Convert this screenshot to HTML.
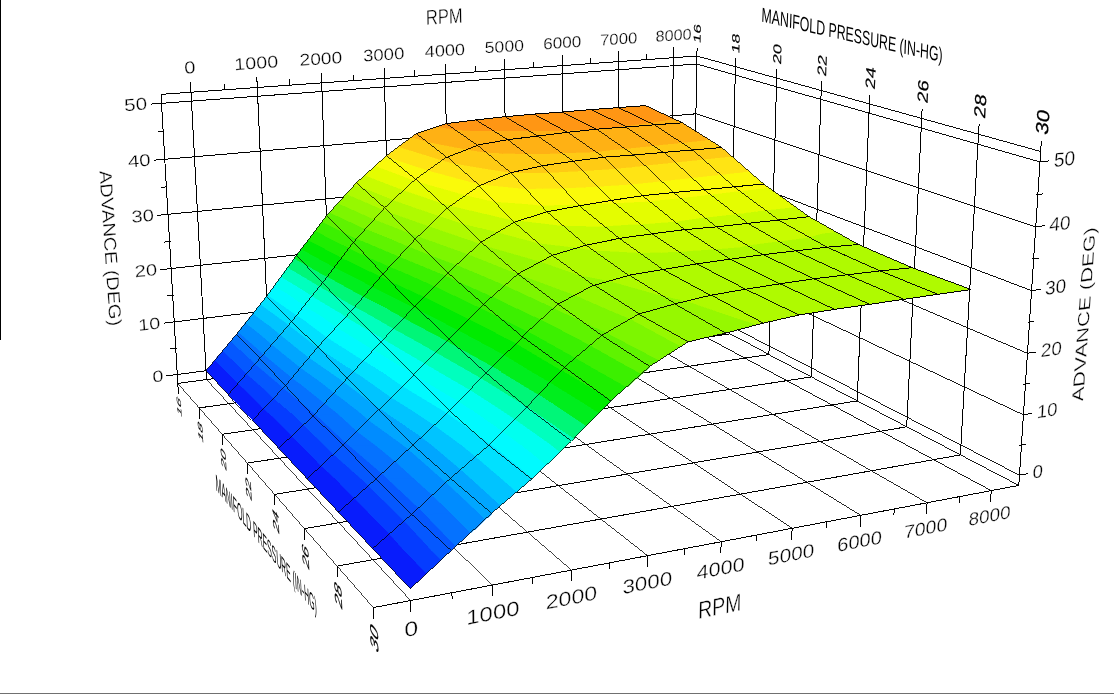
<!DOCTYPE html>
<html><head><meta charset="utf-8"><title>ADVANCE (DEG) vs RPM and MANIFOLD PRESSURE (IN-HG)</title>
<style>html,body{margin:0;padding:0;background:#fff}svg{display:block}text{stroke:#fff;stroke-width:1.6px;paint-order:fill stroke}text.b{stroke:#000;stroke-width:1.2px}text.n{stroke:none}</style></head>
<body>
<svg width="1114" height="694" viewBox="0 0 1114 694">
<rect width="1114" height="694" fill="#fff"/>
<rect x="0" y="0" width="1" height="340" fill="#000"/>
<rect x="0" y="693" width="1114" height="1" fill="#707070"/>
<g fill="none" stroke="#000" shape-rendering="crispEdges"><path stroke-width="0.7" d="M269.9,371.1L492.5,585"/><path stroke-width="0.75" d="M177.8,383.4L373.3,607.6M206.5,379.6L410.6,600.5M331.6,362.9L571.5,570.1"/><path stroke-width="0.8" d="M391.7,354.8L647.6,555.7M450.2,347L721.1,541.7"/><path stroke-width="0.85" d="M507.2,339.4L792.1,528.3M562.8,332L860.7,515.3M616.9,324.8L927.1,502.8"/><path stroke-width="0.9" d="M692.5,314.7L1018.8,485.4M692.7,306.6L1019.4,475.2M693.5,259.4L1023.4,414.8M694.3,211.6L1027.4,353.3M669.8,317.7L991.2,490.6"/><path stroke-width="0.95" d="M696.9,56L1040.7,151.5M695.1,163L1031.5,290.6M695.9,113.8L1035.7,226.8M696.8,64L1040,161.9"/><path stroke-width="1" d="M177.8,383.4L161,94.4M692.5,314.7L696.9,56M206.5,379.6L191,92.2M269.9,371.1L257.3,87.5M331.6,362.9L321.7,82.9M391.7,354.8L384.4,78.4M450.2,347L445.3,74M507.2,339.4L504.6,69.8M562.8,332L562.3,65.6M616.9,324.8L618.5,61.6M669.8,317.7L673.3,57.7M177.8,383.4L692.5,314.7M161,94.4L696.9,56M177.3,374.5L692.7,306.6M174.2,321.9L693.5,259.4M171.1,268.5L694.3,211.6M168,214.3L695.1,163M164.8,159.3L695.9,113.8M161.6,103.3L696.8,64M729.4,334L735.4,66.7M768.9,354.6L776.7,78.1M811.4,376.9L821.2,90.5M857.2,400.9L869.4,103.9M906.7,426.8L921.7,118.4M960.4,454.9L978.5,134.2M1018.8,485.4L1040.7,151.5M199.1,407.9L729.4,334M222.2,434.3L768.9,354.6M247.3,463.1L811.4,376.9M274.5,494.4L857.2,400.9M304.4,528.6L906.7,426.8M337.1,566.1L960.4,454.9M373.3,607.6L1018.8,485.4M191,92.2L190.5,81.9M410.6,600.5L410.9,611.8M224.4,89.8L224.1,84M451.9,592.7L452.1,599M257.3,87.5L256.8,77.2M492.5,585L492.7,596.3M289.7,85.1L289.5,79.4M532.4,577.5L532.4,583.8M321.7,82.9L321.4,72.6M571.5,570.1L571.5,581.4M353.3,80.6L353.1,74.8M609.9,562.8L609.9,569.1M384.4,78.4L384.1,68.1M647.6,555.7L647.5,567M415,76.2L414.9,70.4M684.7,548.6L684.6,554.9M445.3,74L445.1,63.7M721.1,541.7L720.9,553M475.1,71.9L475.1,66.1M756.9,535L756.8,541.3M504.6,69.8L504.5,59.5M792.1,528.3L791.8,539.6M533.6,67.7L533.6,61.9M826.7,521.8L826.5,528.1M562.3,65.6L562.3,55.3M860.7,515.3L860.2,526.6M590.6,63.6L590.6,57.8M894.2,509L893.9,515.3M618.5,61.6L618.6,51.3M927.1,502.8L926.5,514.1M646.1,59.6L646.2,53.8M959.4,496.7L959,503M673.3,57.7L673.5,47.4M991.2,490.6L990.5,501.9M177.3,374.5L166.5,375.9M1019.4,475.2L1028.3,473.5M176.7,348.2L170.3,349M1019.4,445.5L1026.3,444.2M174.2,321.9L163.5,323.2M1023.4,414.8L1032.3,413.3M173.7,295.2L167.2,295.9M1023.4,384.5L1030.3,383.3M171.1,268.5L160.4,269.7M1027.4,353.3L1036.3,351.9M170.6,241.4L164.1,242.1M1027.5,322.4L1034.4,321.3M168,214.3L157.2,215.4M1031.5,290.6L1040.5,289.4M167.4,186.8L160.9,187.4M1031.6,259.1L1038.6,258.2M164.8,159.3L154,160.2M1035.7,226.8L1044.7,225.7M164.2,131.3L157.7,131.8M1035.9,194.7L1042.8,193.9M161.6,103.3L150.8,104.1M1040,161.9L1048.9,160.9M696.9,56L697.1,47.7M177.8,383.4L178.4,394M735.4,66.7L735.6,58.1M199.1,407.9L199.7,418.6M776.7,78.1L776.9,69.3M222.2,434.3L222.8,445.2M821.2,90.5L821.6,81.4M247.3,463.1L247.8,474M869.4,103.9L869.8,94.6M274.5,494.4L275,505.4M921.7,118.4L922.1,108.8M304.4,528.6L304.8,539.7M978.5,134.2L979.1,124.4M337.1,566.1L337.5,577.4M1040.7,151.5L1041.3,141.4M373.3,607.6L373.6,619"/></g>
<g shape-rendering="crispEdges"><path fill="#081cfc" stroke="#081cfc" stroke-width="0.6" d="M206,370.7L236.4,334.4L259.9,358.4ZM206,370.7L259.9,358.4L228.3,394.5ZM228.3,394.5L259.9,358.4L285.4,385.7ZM228.3,394.5L285.4,385.7L252.5,420.3ZM252.5,420.3L285.4,385.7L313.1,415.9ZM252.5,420.3L313.1,415.9L278.7,448.3ZM278.7,448.3L313.1,415.9L343.1,445.1ZM278.7,448.3L343.1,445.1L307.2,478.8ZM307.2,478.8L343.1,445.1L375.8,479.1ZM307.2,478.8L375.8,479.1L338.4,512.1ZM338.4,512.1L375.8,479.1L411.7,514.3ZM338.4,512.1L411.7,514.3L372.6,548.6ZM372.6,548.6L411.7,514.3L451.2,550.5ZM372.6,548.6L451.2,550.5L410.3,588.8Z"/><path fill="#053cff" stroke="#053cff" stroke-width="0.6" d="M214.8,360.1L236.4,334.4L259.9,358.4L222,367ZM222,367L259.9,358.4L238,383.5ZM238,383.5L259.9,358.4L285.4,385.7L247.1,391.6ZM247.1,391.6L285.4,385.7L263.6,408.7ZM263.6,408.7L285.4,385.7L313.1,415.9L275.2,418.7ZM275.2,418.7L313.1,415.9L291.9,435.9ZM291.9,435.9L313.1,415.9L343.1,445.1L303,447.1ZM303,447.1L343.1,445.1L321.1,465.7ZM321.1,465.7L343.1,445.1L375.8,479.1L335.5,478.9ZM335.5,478.9L375.8,479.1L354.3,498.1ZM354.3,498.1L375.8,479.1L411.7,514.3L369,513ZM369,513L411.7,514.3L389.4,533.8ZM389.4,533.8L411.7,514.3L451.2,550.5L403.2,549.3ZM403.2,549.3L451.2,550.5L426.7,573.5Z"/><path fill="#0558ff" stroke="#0558ff" stroke-width="0.6" d="M222.7,350.8L236.4,334.4L259.9,358.4L236.6,363.7ZM236.6,363.7L259.9,358.4L246.6,373.7ZM246.6,373.7L259.9,358.4L285.4,385.7L264.1,389ZM264.1,389L285.4,385.7L273.5,398.3ZM273.5,398.3L285.4,385.7L313.1,415.9L295.9,417.1ZM295.9,417.1L313.1,415.9L303.6,424.8ZM285.4,385.7L347.1,378.2L313.1,415.9ZM303.6,424.8L313.1,415.9L343.1,445.1L325.2,446ZM325.2,446L343.1,445.1L333.4,454.1ZM313.1,415.9L347.1,378.2L378.5,409.6ZM313.1,415.9L378.5,409.6L343.1,445.1ZM333.4,454.1L343.1,445.1L375.8,479.1L361.5,479ZM361.5,479L375.8,479.1L368.3,485.7ZM343.1,445.1L378.5,409.6L412.9,445.1ZM343.1,445.1L412.9,445.1L375.8,479.1ZM368.3,485.7L375.8,479.1L411.7,514.3L397.2,513.8ZM397.2,513.8L411.7,514.3L404.3,520.8ZM375.8,479.1L412.9,445.1L450.4,478.3ZM375.8,479.1L450.4,478.3L411.7,514.3ZM404.3,520.8L411.7,514.3L451.2,550.5L431.3,550ZM431.3,550L451.2,550.5L441.2,559.9ZM411.7,514.3L450.4,478.3L491.6,513.3ZM411.7,514.3L491.6,513.3L451.2,550.5Z"/><path fill="#0572ff" stroke="#0572ff" stroke-width="0.6" d="M230.5,341.4L236.4,334.4L259.9,358.4L251.5,360.3ZM251.5,360.3L259.9,358.4L255.1,363.9ZM236.4,334.4L266.6,296.4L291.4,321.8ZM236.4,334.4L291.4,321.8L259.9,358.4ZM255.1,363.9L259.9,358.4L285.4,385.7L281.6,386.3ZM281.6,386.3L285.4,385.7L283.3,387.9ZM259.9,358.4L291.4,321.8L318,346.8ZM259.9,358.4L318,346.8L285.4,385.7ZM283.3,387.9L285.4,385.7L300.1,401.6ZM285.4,385.7L318,346.8L347.1,378.2ZM285.4,385.7L347.1,378.2L314.9,413.9L300.1,401.6ZM314.9,413.9L347.1,378.2L378.5,409.6L316.9,415.5ZM316.9,415.5L378.5,409.6L345.6,442.6ZM345.6,442.6L378.5,409.6L412.9,445.1L348.8,445.1ZM348.8,445.1L412.9,445.1L382,473.5ZM382,473.5L412.9,445.1L450.4,478.3L387.8,479ZM387.8,479L450.4,478.3L418.6,507.9ZM418.6,507.9L450.4,478.3L491.6,513.3L424.8,514.1ZM424.8,514.1L491.6,513.3L455.8,546.3Z"/><path fill="#008cff" stroke="#008cff" stroke-width="0.6" d="M238.2,332L266.6,296.4L291.4,321.8L240.1,333.5ZM240.1,333.5L291.4,321.8L263.6,354.1ZM263.6,354.1L291.4,321.8L318,346.8L267,357ZM267,357L318,346.8L292.1,377.8ZM292.1,377.8L318,346.8L347.1,378.2L300.4,383.9ZM300.4,383.9L347.1,378.2L324.6,403.2ZM324.6,403.2L347.1,378.2L378.5,409.6L337.7,413.5ZM337.7,413.5L378.5,409.6L357,431.2ZM357,431.2L378.5,409.6L412.9,445.1L375.6,445.1ZM375.6,445.1L412.9,445.1L395.2,461.3ZM395.2,461.3L412.9,445.1L450.4,478.3L414.3,478.7ZM414.3,478.7L450.4,478.3L432.4,495.1ZM432.4,495.1L450.4,478.3L491.6,513.3L451.6,513.8ZM451.6,513.8L491.6,513.3L470.5,532.7Z"/><path fill="#00a6ff" stroke="#00a6ff" stroke-width="0.6" d="M245.6,322.8L266.6,296.4L291.4,321.8L255.2,330.1ZM255.2,330.1L291.4,321.8L272,344.3ZM272,344.3L291.4,321.8L318,346.8L283.3,353.7ZM283.3,353.7L318,346.8L300.6,367.6ZM300.6,367.6L318,346.8L347.1,378.2L320,381.5ZM320,381.5L347.1,378.2L334.2,392.5ZM334.2,392.5L347.1,378.2L378.5,409.6L358.9,411.5ZM358.9,411.5L378.5,409.6L368.3,419.8ZM347.1,378.2L413.8,374.6L378.5,409.6ZM368.3,419.8L378.5,409.6L412.9,445.1L403.3,445.1ZM403.3,445.1L412.9,445.1L408.4,449.2ZM378.5,409.6L413.8,374.6L449.6,410.9ZM378.5,409.6L449.6,410.9L412.9,445.1ZM408.4,449.2L412.9,445.1L450.4,478.3L441.6,478.4ZM441.6,478.4L450.4,478.3L446.1,482.3ZM412.9,445.1L449.6,410.9L488.7,445.3ZM412.9,445.1L488.7,445.3L450.4,478.3ZM446.1,482.3L450.4,478.3L491.6,513.3L479.3,513.4ZM479.3,513.4L491.6,513.3L485.2,519.2ZM450.4,478.3L488.7,445.3L531.7,479.1ZM450.4,478.3L531.7,479.1L491.6,513.3Z"/><path fill="#00c4ff" stroke="#00c4ff" stroke-width="0.6" d="M253,313.5L266.6,296.4L291.4,321.8L270.7,326.6ZM270.7,326.6L291.4,321.8L280.4,334.6ZM280.4,334.6L291.4,321.8L318,346.8L299.9,350.4ZM299.9,350.4L318,346.8L309,357.5ZM309,357.5L318,346.8L347.1,378.2L340.1,379ZM340.1,379L347.1,378.2L343.8,381.8ZM318,346.8L380.9,341.9L347.1,378.2ZM343.8,381.8L347.1,378.2L371.2,402.3ZM347.1,378.2L380.9,341.9L413.8,374.6ZM347.1,378.2L413.8,374.6L379.7,408.5L371.2,402.3ZM379.7,408.5L413.8,374.6L449.6,410.9L381.5,409.7ZM381.5,409.7L449.6,410.9L421.4,437.1ZM421.4,437.1L449.6,410.9L488.7,445.3L432.1,445.2ZM432.1,445.2L488.7,445.3L460.7,469.4ZM460.7,469.4L488.7,445.3L531.7,479.1L471,478.5ZM471,478.5L531.7,479.1L500.7,505.5Z"/><path fill="#00e1ff" stroke="#00e1ff" stroke-width="0.6" d="M260.4,304.2L266.6,296.4L291.4,321.8L286.4,323ZM286.4,323L291.4,321.8L288.8,324.9ZM266.6,296.4L296.5,255.4L322.5,282.8ZM266.6,296.4L322.5,282.8L291.4,321.8ZM288.8,324.9L291.4,321.8L318,346.8L317,347ZM317,347L318,346.8L317.5,347.4ZM291.4,321.8L322.5,282.8L350.6,311.7ZM291.4,321.8L350.6,311.7L318,346.8ZM317.5,347.4L318,346.8L320.5,349.4ZM318,346.8L350.6,311.7L380.9,341.9ZM318,346.8L380.9,341.9L353.6,371.2L320.5,349.4ZM353.6,371.2L380.9,341.9L413.8,374.6L363.1,377.3ZM363.1,377.3L413.8,374.6L391.1,397.2ZM391.1,397.2L413.8,374.6L449.6,410.9L412,410.2ZM412,410.2L449.6,410.9L434.3,425.1ZM434.3,425.1L449.6,410.9L488.7,445.3L461.8,445.2ZM461.8,445.2L488.7,445.3L475.7,456.5ZM449.6,410.9L526.7,407.1L488.7,445.3ZM475.7,456.5L488.7,445.3L531.7,479.1L501.8,478.8ZM501.8,478.8L531.7,479.1L516.7,491.9ZM488.7,445.3L526.7,407.1L571.4,441.2ZM488.7,445.3L571.4,441.2L531.7,479.1Z"/><path fill="#00faff" stroke="#00faff" stroke-width="0.6" d="M267.6,294.9L296.5,255.4L322.5,282.8L269,295.8ZM269,295.8L322.5,282.8L296.7,315.2ZM296.7,315.2L322.5,282.8L350.6,311.7L303.8,319.7ZM303.8,319.7L350.6,311.7L326.9,337.2ZM326.9,337.2L350.6,311.7L380.9,341.9L339.4,345.1ZM339.4,345.1L380.9,341.9L363.5,360.5ZM363.5,360.5L380.9,341.9L413.8,374.6L388.1,376ZM388.1,376L413.8,374.6L402.4,385.9ZM380.9,341.9L448.7,339.2L413.8,374.6ZM402.4,385.9L413.8,374.6L449.6,410.9L443.6,410.8ZM443.6,410.8L449.6,410.9L447.2,413.1ZM413.8,374.6L448.7,339.2L486,372.9ZM413.8,374.6L486,372.9L449.6,410.9ZM447.2,413.1L449.6,410.9L472.6,431.2ZM449.6,410.9L486,372.9L526.7,407.1ZM449.6,410.9L526.7,407.1L490.3,443.8L472.6,431.2ZM490.3,443.8L526.7,407.1L571.4,441.2L492.1,445.1ZM492.1,445.1L571.4,441.2L532.6,478.3Z"/><path fill="#00fff0" stroke="#00fff0" stroke-width="0.6" d="M274.3,285.8L296.5,255.4L322.5,282.8L284.5,292ZM284.5,292L322.5,282.8L304.3,305.6ZM304.3,305.6L322.5,282.8L350.6,311.7L322.2,316.6ZM322.2,316.6L350.6,311.7L336.4,327ZM336.4,327L350.6,311.7L380.9,341.9L362.9,343.3ZM362.9,343.3L380.9,341.9L373.5,349.8ZM350.6,311.7L414.5,306.6L380.9,341.9ZM373.5,349.8L380.9,341.9L413.8,374.6ZM380.9,341.9L414.5,306.6L448.7,339.2ZM380.9,341.9L448.7,339.2L413.8,374.6L413.8,374.6ZM413.8,374.6L448.7,339.2L486,372.9L413.8,374.6ZM413.8,374.6L486,372.9L458.7,401.4ZM458.7,401.4L486,372.9L526.7,407.1L471.5,409.8ZM471.5,409.8L526.7,407.1L502.6,431.4ZM502.6,431.4L526.7,407.1L571.4,441.2L519.5,443.8ZM519.5,443.8L571.4,441.2L546.4,465Z"/><path fill="#00ffbe" stroke="#00ffbe" stroke-width="0.6" d="M281,276.6L296.5,255.4L322.5,282.8L300.3,288.2ZM300.3,288.2L322.5,282.8L312,296ZM312,296L322.5,282.8L350.6,311.7L341,313.3ZM341,313.3L350.6,311.7L345.9,316.8ZM322.5,282.8L382.9,274L350.6,311.7ZM345.9,316.8L350.6,311.7L370.5,331.5ZM350.6,311.7L382.9,274L414.5,306.6ZM350.6,311.7L414.5,306.6L383.4,339.2L370.5,331.5ZM383.4,339.2L414.5,306.6L448.7,339.2L387.7,341.6ZM387.7,341.6L448.7,339.2L424.9,363.4ZM424.9,363.4L448.7,339.2L486,372.9L442.7,373.9ZM442.7,373.9L486,372.9L469.9,389.7ZM469.9,389.7L486,372.9L526.7,407.1L499.1,408.4ZM499.1,408.4L526.7,407.1L514.8,419ZM486,372.9L564.3,367.2L526.7,407.1ZM514.8,419L526.7,407.1L571.4,441.2L547.8,442.4ZM547.8,442.4L571.4,441.2L560.2,451.9ZM526.7,407.1L564.3,367.2L610.7,400.9ZM526.7,407.1L610.7,400.9L571.4,441.2Z"/><path fill="#00f678" stroke="#00f678" stroke-width="0.6" d="M287.7,267.4L296.5,255.4L322.5,282.8L316.4,284.3ZM316.4,284.3L322.5,282.8L319.7,286.4ZM296.5,255.4L353.5,242.2L322.5,282.8ZM319.7,286.4L322.5,282.8L334.3,294.9ZM322.5,282.8L353.5,242.2L382.9,274ZM322.5,282.8L382.9,274L354.9,306.7L334.3,294.9ZM354.9,306.7L382.9,274L414.5,306.6L362.7,310.8ZM362.7,310.8L414.5,306.6L393.6,328.5ZM393.6,328.5L414.5,306.6L448.7,339.2L415.4,340.5ZM415.4,340.5L448.7,339.2L435.9,352.2ZM435.9,352.2L448.7,339.2L486,372.9L472.6,373.2ZM472.6,373.2L486,372.9L481.1,378ZM448.7,339.2L522.1,336.5L486,372.9ZM481.1,378L486,372.9L523.9,404.7ZM486,372.9L522.1,336.5L564.3,367.2ZM486,372.9L564.3,367.2L527,406.7L523.9,404.7ZM527,406.7L564.3,367.2L610.7,400.9L527.5,407ZM527.5,407L610.7,400.9L573.8,438.7Z"/><path fill="#00ee1e" stroke="#00ee1e" stroke-width="0.6" d="M294.4,258.3L296.5,255.4L305,264.3ZM296.5,255.4L326.4,215.9L353.5,242.2ZM296.5,255.4L353.5,242.2L327.1,276.8L305,264.3ZM327.1,276.8L353.5,242.2L382.9,274L335.3,280.9ZM335.3,280.9L382.9,274L363.5,296.6ZM363.5,296.6L382.9,274L414.5,306.6L387.4,308.8ZM387.4,308.8L414.5,306.6L403.7,317.9ZM403.7,317.9L414.5,306.6L448.7,339.2L444,339.4ZM444,339.4L448.7,339.2L446.9,341ZM414.5,306.6L483.4,304.2L448.7,339.2ZM446.9,341L448.7,339.2L456.8,346.5ZM448.7,339.2L483.4,304.2L522.1,336.5ZM448.7,339.2L522.1,336.5L492.5,366.3L456.8,346.5ZM492.5,366.3L522.1,336.5L564.3,367.2L501.1,371.8ZM501.1,371.8L564.3,367.2L538.5,394.5ZM538.5,394.5L564.3,367.2L610.7,400.9L555,405ZM555,405L610.7,400.9L586.4,425.8Z"/><path fill="#00eb00" stroke="#00eb00" stroke-width="0.6" d="M301.3,249.1L326.4,215.9L353.5,242.2L308,252.7ZM308,252.7L353.5,242.2L334.4,267.2ZM334.4,267.2L353.5,242.2L382.9,274L356.1,277.9ZM356.1,277.9L382.9,274L372.1,286.6ZM372.1,286.6L382.9,274L414.5,306.6L412.9,306.8ZM412.9,306.8L414.5,306.6L413.9,307.3ZM382.9,274L447.9,272.8L414.5,306.6ZM413.9,307.3L414.5,306.6L416.8,308.8ZM414.5,306.6L447.9,272.8L483.4,304.2ZM414.5,306.6L483.4,304.2L458,329.9L416.8,308.8ZM458,329.9L483.4,304.2L522.1,336.5L473.7,338.3ZM473.7,338.3L522.1,336.5L504.1,354.7ZM504.1,354.7L522.1,336.5L564.3,367.2L528.7,369.8ZM528.7,369.8L564.3,367.2L550,382.3ZM550,382.3L564.3,367.2L610.7,400.9L583.4,402.9ZM583.4,402.9L610.7,400.9L599,412.9ZM564.3,367.2L649.7,366.4L610.7,400.9Z"/><path fill="#1eee00" stroke="#1eee00" stroke-width="0.6" d="M308.2,239.9L326.4,215.9L353.5,242.2L325.1,248.8ZM325.1,248.8L353.5,242.2L341.7,257.7ZM341.7,257.7L353.5,242.2L382.9,274L377.4,274.8ZM377.4,274.8L382.9,274L380.7,276.5ZM353.5,242.2L415,239.4L382.9,274ZM380.7,276.5L382.9,274L389.3,280.7ZM382.9,274L415,239.4L447.9,272.8ZM382.9,274L447.9,272.8L424.3,296.7L389.3,280.7ZM424.3,296.7L447.9,272.8L483.4,304.2L442.6,305.7ZM442.6,305.7L483.4,304.2L469,318.8ZM469,318.8L483.4,304.2L522.1,336.5L504.4,337.1ZM504.4,337.1L522.1,336.5L515.6,343ZM483.4,304.2L558,304.1L522.1,336.5ZM515.6,343L522.1,336.5L564.3,367.2L557.1,367.7ZM557.1,367.7L564.3,367.2L561.5,370.2ZM522.1,336.5L558,304.1L601.7,335.4ZM522.1,336.5L601.7,335.4L564.3,367.2ZM561.5,370.2L564.3,367.2L601.1,393.9ZM564.3,367.2L601.7,335.4L649.7,366.4ZM564.3,367.2L649.7,366.4L611.7,400L601.1,393.9Z"/><path fill="#3cf000" stroke="#3cf000" stroke-width="0.6" d="M315.2,230.7L326.4,215.9L353.5,242.2L342.5,244.8ZM342.5,244.8L353.5,242.2L349,248.2ZM326.4,215.9L384.6,207.8L353.5,242.2ZM349,248.2L353.5,242.2L366.6,256.4ZM353.5,242.2L384.6,207.8L415,239.4ZM353.5,242.2L415,239.4L389.9,266.5L366.6,256.4ZM389.9,266.5L415,239.4L447.9,272.8L406.7,273.6ZM406.7,273.6L447.9,272.8L434.8,286.1ZM434.8,286.1L447.9,272.8L483.4,304.2L473.6,304.6ZM473.6,304.6L483.4,304.2L480,307.7ZM447.9,272.8L518,273.9L483.4,304.2ZM480,307.7L483.4,304.2L499.1,317.3ZM483.4,304.2L518,273.9L558,304.1ZM483.4,304.2L558,304.1L527.8,331.3L499.1,317.3ZM527.8,331.3L558,304.1L601.7,335.4L537.3,336.3ZM537.3,336.3L601.7,335.4L575.4,357.7ZM575.4,357.7L601.7,335.4L649.7,366.4L591.2,366.9ZM591.2,366.9L649.7,366.4L626.5,386.9Z"/><path fill="#5ff300" stroke="#5ff300" stroke-width="0.6" d="M322.1,221.6L326.4,215.9L343.1,232.1ZM326.4,215.9L356.4,182.8L384.6,207.8ZM326.4,215.9L384.6,207.8L356.8,238.6L343.1,232.1ZM356.8,238.6L384.6,207.8L415,239.4L364.4,241.7ZM364.4,241.7L415,239.4L399.3,256.4ZM399.3,256.4L415,239.4L447.9,272.8L439.5,273ZM439.5,273L447.9,272.8L445.3,275.5ZM415,239.4L481.1,242.2L447.9,272.8ZM445.3,275.5L447.9,272.8L457.1,280.9ZM447.9,272.8L481.1,242.2L518,273.9ZM447.9,272.8L518,273.9L492.3,296.4L457.1,280.9ZM492.3,296.4L518,273.9L558,304.1L508.4,304.2ZM508.4,304.2L558,304.1L540.9,319.5ZM540.9,319.5L558,304.1L601.7,335.4L572.9,335.8ZM572.9,335.8L601.7,335.4L590.2,345.2ZM558,304.1L638.6,314.1L601.7,335.4ZM590.2,345.2L601.7,335.4L649.7,366.4L628.2,366.6ZM628.2,366.6L649.7,366.4L641.4,373.7ZM601.7,335.4L638.6,314.1L688.1,341.8ZM601.7,335.4L688.1,341.8L649.7,366.4Z"/><path fill="#7df600" stroke="#7df600" stroke-width="0.6" d="M329.6,212.4L356.4,182.8L384.6,207.8L334.7,214.7ZM334.7,214.7L384.6,207.8L365.5,228.9ZM365.5,228.9L384.6,207.8L415,239.4L394.1,240.3ZM394.1,240.3L415,239.4L408.6,246.3ZM384.6,207.8L447.1,208.3L415,239.4ZM408.6,246.3L415,239.4L430.4,255ZM415,239.4L447.1,208.3L481.1,242.2ZM415,239.4L481.1,242.2L456.6,264.8L430.4,255ZM456.6,264.8L481.1,242.2L518,273.9L477.3,273.3ZM477.3,273.3L518,273.9L505.1,285.2ZM481.1,242.2L552.2,255.4L518,273.9ZM505.1,285.2L518,273.9L558,304.1L545.9,304.1ZM545.9,304.1L558,304.1L553.9,307.8ZM518,273.9L552.2,255.4L593.5,285.2ZM518,273.9L593.5,285.2L558,304.1ZM553.9,307.8L558,304.1L583.2,322.2ZM558,304.1L593.5,285.2L638.6,314.1ZM558,304.1L638.6,314.1L606.8,332.4L583.2,322.2ZM606.8,332.4L638.6,314.1L688.1,341.8L613.6,336.3ZM613.6,336.3L688.1,341.8L659.3,360.2Z"/><path fill="#96f800" stroke="#96f800" stroke-width="0.6" d="M338,203.1L356.4,182.8L384.6,207.8L357.1,211.6ZM357.1,211.6L384.6,207.8L374.3,219.3ZM374.3,219.3L384.6,207.8L408.5,232.6ZM384.6,207.8L447.1,208.3L418.3,236.2L408.5,232.6ZM418.3,236.2L447.1,208.3L481.1,242.2L429,240ZM429,240L481.1,242.2L468.2,254.1ZM468.2,254.1L481.1,242.2L518,273.9ZM481.1,242.2L552.2,255.4L518,273.9L518,273.9ZM518,273.9L552.2,255.4L593.5,285.2L518,273.9ZM518,273.9L593.5,285.2L575,295ZM552.2,255.4L628.5,275.3L593.5,285.2ZM575,295L593.5,285.2L638.6,314.1L610.7,310.6ZM610.7,310.6L638.6,314.1L630.4,318.8ZM593.5,285.2L628.5,275.3L674.8,303.9ZM593.5,285.2L674.8,303.9L638.6,314.1ZM628.5,275.3L710.5,295.3L674.8,303.9ZM630.4,318.8L638.6,314.1L688.1,341.8L669.9,340.4ZM669.9,340.4L688.1,341.8L681.3,346.1ZM638.6,314.1L674.8,303.9L725.7,333.1ZM638.6,314.1L725.7,333.1L688.1,341.8ZM674.8,303.9L710.5,295.3L762.7,323.3ZM674.8,303.9L762.7,323.3L725.7,333.1Z"/><path fill="#affa00" stroke="#affa00" stroke-width="0.6" d="M346.4,193.8L356.4,182.8L384.6,207.8L380.2,208.4ZM380.2,208.4L384.6,207.8L383,209.6ZM356.4,182.8L415.6,179.1L384.6,207.8ZM383,209.6L384.6,207.8L388.3,211.7ZM384.6,207.8L415.6,179.1L447.1,208.3ZM384.6,207.8L447.1,208.3L428.8,226L388.3,211.7ZM428.8,226L447.1,208.3L481.1,242.2L475.2,241.9ZM475.2,241.9L481.1,242.2L479.7,243.5ZM447.1,208.3L514.2,222.2L481.1,242.2ZM479.7,243.5L481.1,242.2L485.1,245.6ZM481.1,242.2L514.2,222.2L552.2,255.4ZM481.1,242.2L552.2,255.4L540.8,261.6L485.1,245.6ZM514.2,222.2L586,245.2L552.2,255.4ZM540.8,261.6L552.2,255.4L579.3,275ZM552.2,255.4L586,245.2L628.5,275.3ZM552.2,255.4L628.5,275.3L609.1,280.8L579.3,275ZM586,245.2L619.4,238.4L662.9,269.5ZM586,245.2L662.9,269.5L628.5,275.3ZM619.4,238.4L652.2,233.8L696.8,263.9ZM619.4,238.4L696.8,263.9L662.9,269.5ZM652.2,233.8L684.6,229.6L730.2,259.2ZM652.2,233.8L730.2,259.2L696.8,263.9ZM684.6,229.6L716.4,226.9L763,254.7ZM684.6,229.6L763,254.7L730.2,259.2ZM716.4,226.9L747.8,223.3L795.3,250.9ZM716.4,226.9L795.3,250.9L763,254.7ZM747.8,223.3L778.7,220.1L827.1,247.2ZM747.8,223.3L827.1,247.2L795.3,250.9ZM778.7,220.1L809.1,216.7L858.4,244.5ZM778.7,220.1L858.4,244.5L827.1,247.2ZM609.1,280.8L628.5,275.3L661.2,295.4ZM628.5,275.3L662.9,269.5L710.5,295.3ZM628.5,275.3L710.5,295.3L686.8,301L661.2,295.4ZM662.9,269.5L696.8,263.9L745.6,289.2ZM662.9,269.5L745.6,289.2L710.5,295.3ZM696.8,263.9L730.2,259.2L780,283.8ZM696.8,263.9L780,283.8L745.6,289.2ZM730.2,259.2L763,254.7L813.9,278.8ZM730.2,259.2L813.9,278.8L780,283.8ZM763,254.7L795.3,250.9L847.2,274.8ZM763,254.7L847.2,274.8L813.9,278.8ZM795.3,250.9L827.1,247.2L880,270.9ZM795.3,250.9L880,270.9L847.2,274.8ZM827.1,247.2L858.4,244.5L912.2,267.7ZM827.1,247.2L912.2,267.7L880,270.9ZM686.8,301L710.5,295.3L762.7,323.3L732.6,316.7ZM732.6,316.7L762.7,323.3L757.4,324.7ZM710.5,295.3L745.6,289.2L799,315ZM710.5,295.3L799,315L762.7,323.3ZM745.6,289.2L780,283.8L834.7,309.4ZM745.6,289.2L834.7,309.4L799,315ZM780,283.8L813.9,278.8L869.7,304.3ZM780,283.8L869.7,304.3L834.7,309.4ZM813.9,278.8L847.2,274.8L904.1,299.3ZM813.9,278.8L904.1,299.3L869.7,304.3ZM847.2,274.8L880,270.9L937.9,294.3ZM847.2,274.8L937.9,294.3L904.1,299.3ZM880,270.9L912.2,267.7L971.2,289.5ZM880,270.9L971.2,289.5L937.9,294.3Z"/><path fill="#c8fc00" stroke="#c8fc00" stroke-width="0.6" d="M354.8,184.5L356.4,182.8L361.5,187.3ZM356.4,182.8L386.4,155.7L415.6,179.1ZM356.4,182.8L415.6,179.1L393.2,199.9L361.5,187.3ZM393.2,199.9L415.6,179.1L447.1,208.3L416.6,208.1ZM416.6,208.1L447.1,208.3L439.3,215.9ZM415.6,179.1L479,185.9L447.1,208.3ZM439.3,215.9L447.1,208.3L462.5,223.6ZM447.1,208.3L479,185.9L514.2,222.2ZM447.1,208.3L514.2,222.2L497.7,232.2L462.5,223.6ZM479,185.9L547,211.8L514.2,222.2ZM497.7,232.2L514.2,222.2L538,243ZM514.2,222.2L547,211.8L586,245.2ZM514.2,222.2L586,245.2L578,247.6L538,243ZM547,211.8L579.3,205.8L619.4,238.4ZM547,211.8L619.4,238.4L586,245.2ZM579.3,205.8L611.2,200.4L652.2,233.8ZM579.3,205.8L652.2,233.8L619.4,238.4ZM611.2,200.4L642.6,195.7L684.6,229.6ZM611.2,200.4L684.6,229.6L652.2,233.8ZM642.6,195.7L673.6,192.5L716.4,226.9ZM642.6,195.7L716.4,226.9L684.6,229.6ZM673.6,192.5L704,189.7L747.8,223.3ZM673.6,192.5L747.8,223.3L716.4,226.9ZM704,189.7L734.1,186.8L778.7,220.1ZM704,189.7L778.7,220.1L747.8,223.3ZM734.1,186.8L763.7,184L809.1,216.7ZM734.1,186.8L809.1,216.7L778.7,220.1ZM578,247.6L586,245.2L593.6,250.6ZM586,245.2L619.4,238.4L639.3,252.7L603.1,250.6ZM586,245.2L603.1,250.6L593.6,250.6ZM619.4,238.4L652.2,233.8L678.5,251.5L661.8,252.3ZM619.4,238.4L661.8,252.3L639.3,252.7ZM652.2,233.8L684.6,229.6L714.6,249.1L701.7,249.9ZM652.2,233.8L701.7,249.9L678.5,251.5ZM684.6,229.6L716.4,226.9L747.2,245.3L739.3,247.1ZM684.6,229.6L739.3,247.1L714.6,249.1ZM716.4,226.9L747.8,223.3L778.7,241.3L767.8,242.5ZM716.4,226.9L767.8,242.5L747.2,245.3ZM747.8,223.3L778.7,220.1L809,237.1L798.7,238.6ZM747.8,223.3L798.7,238.6L778.7,241.3ZM778.7,220.1L809.1,216.7L835.8,231.8L822,233.4ZM778.7,220.1L822,233.4L809,237.1Z"/><path fill="#e4fd00" stroke="#e4fd00" stroke-width="0.6" d="M364.9,175.1L386.4,155.7L415.6,179.1L380.7,181.3ZM380.7,181.3L415.6,179.1L403.7,190.1ZM403.7,190.1L415.6,179.1L441.2,202.8ZM415.6,179.1L479,185.9L450.9,205.7L441.2,202.8ZM450.9,205.7L479,185.9L511.9,219.9ZM479,185.9L510.8,172.7L547,211.8ZM479,185.9L547,211.8L519.7,220.5L511.9,219.9ZM510.8,172.7L542.2,165.8L579.3,205.8ZM510.8,172.7L579.3,205.8L547,211.8ZM542.2,165.8L611.2,200.4L579.3,205.8ZM519.7,220.5L547,211.8L563.2,225.7ZM547,211.8L579.3,205.8L604.2,226.1L585.5,226ZM547,211.8L585.5,226L563.2,225.7ZM579.3,205.8L611.2,200.4L640.4,224.2L628,224.5ZM579.3,205.8L628,224.5L604.2,226.1ZM611.2,200.4L642.6,195.7L674.8,221.7L665.8,222.1ZM611.2,200.4L665.8,222.1L640.4,224.2ZM642.6,195.7L673.6,192.5L704.6,217.4L696.2,218.3ZM642.6,195.7L696.2,218.3L674.8,221.7ZM673.6,192.5L704,189.7L735.5,213.9L727.4,214.9ZM673.6,192.5L727.4,214.9L704.6,217.4ZM704,189.7L734.1,186.8L765.3,210.2L756.9,211.2ZM704,189.7L756.9,211.2L735.5,213.9ZM734.1,186.8L763.7,184L795.3,206.7L786.8,207.8ZM734.1,186.8L786.8,207.8L765.3,210.2Z"/><path fill="#fafa0a" stroke="#fafa0a" stroke-width="0.6" d="M375.3,165.7L386.4,155.7L415.6,179.1L411.6,179.4ZM411.6,179.4L415.6,179.1L414.3,180.3ZM386.4,155.7L446.5,157.1L415.6,179.1ZM414.3,180.3L415.6,179.1L418.4,181.7ZM415.6,179.1L446.5,157.1L479,185.9ZM415.6,179.1L479,185.9L465.9,195.1L418.4,181.7ZM446.5,157.1L510.8,172.7L479,185.9ZM465.9,195.1L479,185.9L494.1,201.5ZM479,185.9L510.8,172.7L541.1,205.4L526.2,203.8ZM479,185.9L526.2,203.8L494.1,201.5ZM510.8,172.7L542.2,165.8L577.9,204.2L576.2,204.3ZM510.8,172.7L576.2,204.3L541.1,205.4ZM542.2,165.8L573.2,161.2L611.2,200.4ZM542.2,165.8L611.2,200.4L593,203.5L577.9,204.2ZM573.2,161.2L603.7,157.2L642.6,195.7ZM573.2,161.2L642.6,195.7L611.2,200.4ZM603.7,157.2L633.9,155L673.6,192.5ZM603.7,157.2L673.6,192.5L642.6,195.7ZM633.9,155L663.5,152.4L704,189.7ZM633.9,155L704,189.7L673.6,192.5ZM663.5,152.4L692.8,150L734.1,186.8ZM663.5,152.4L734.1,186.8L704,189.7ZM692.8,150L721.7,147.5L763.7,184ZM692.8,150L763.7,184L734.1,186.8ZM593,203.5L611.2,200.4L614.4,203ZM611.2,200.4L642.6,195.7L649.5,201.3L617.1,202.8ZM611.2,200.4L617.1,202.8L614.4,203ZM642.6,195.7L673.6,192.5L680.2,197.9L654.2,200.6ZM642.6,195.7L654.2,200.6L649.5,201.3ZM673.6,192.5L704,189.7L710.2,194.4L685.2,197.4ZM673.6,192.5L685.2,197.4L680.2,197.9ZM704,189.7L734.1,186.8L739.6,190.9L714.4,193.9ZM704,189.7L714.4,193.9L710.2,194.4ZM734.1,186.8L763.7,184L768.6,187.5L743.4,190.5ZM734.1,186.8L743.4,190.5L739.6,190.9Z"/><path fill="#ffe414" stroke="#ffe414" stroke-width="0.6" d="M385.8,156.3L386.4,155.7L388.3,157.2ZM386.4,155.7L416.3,133.5L446.5,157.1ZM386.4,155.7L446.5,157.1L428,170.3L388.3,157.2ZM428,170.3L446.5,157.1L476.1,183.3ZM446.5,157.1L510.8,172.7L482.6,184.4L476.1,183.3ZM482.6,184.4L510.8,172.7L525.7,188.8ZM510.8,172.7L542.2,165.8L562.9,188.1L543,188.3ZM510.8,172.7L543,188.3L525.7,188.8ZM542.2,165.8L573.2,161.2L597.6,186.4L584.6,187.1ZM542.2,165.8L584.6,187.1L562.9,188.1ZM573.2,161.2L603.7,157.2L631,184.2L620.9,184.9ZM573.2,161.2L620.9,184.9L597.6,186.4ZM603.7,157.2L633.9,155L661.4,181L652.8,182ZM603.7,157.2L652.8,182L631,184.2ZM633.9,155L663.5,152.4L691.1,177.8L682,178.8ZM633.9,155L682,178.8L661.4,181ZM663.5,152.4L692.8,150L720.4,174.6L711,175.6ZM663.5,152.4L711,175.6L691.1,177.8ZM692.8,150L721.7,147.5L749.2,171.4L739.6,172.4ZM692.8,150L739.6,172.4L720.4,174.6Z"/><path fill="#ffcb14" stroke="#ffcb14" stroke-width="0.6" d="M398.6,146.7L416.3,133.5L446.5,157.1L431.1,156.7ZM431.1,156.7L446.5,157.1L442.1,160.2ZM416.3,133.5L477.3,145.1L446.5,157.1ZM442.1,160.2L446.5,157.1L453.4,163.2ZM446.5,157.1L477.3,145.1L510.8,172.7ZM446.5,157.1L510.8,172.7L510.8,172.7L453.4,163.2ZM477.3,145.1L507.8,139.7L542.2,165.8ZM477.3,145.1L542.2,165.8L510.8,172.7ZM507.8,139.7L537.9,136L573.2,161.2ZM507.8,139.7L573.2,161.2L542.2,165.8ZM537.9,136L567.6,132.3L603.7,157.2ZM537.9,136L603.7,157.2L573.2,161.2ZM567.6,132.3L596.8,129.2L633.9,155ZM567.6,132.3L633.9,155L603.7,157.2ZM596.8,129.2L625.7,127L663.5,152.4ZM596.8,129.2L663.5,152.4L633.9,155ZM625.7,127L654.3,124.8L692.8,150ZM625.7,127L692.8,150L663.5,152.4ZM654.3,124.8L682.4,122.8L721.7,147.5ZM654.3,124.8L721.7,147.5L692.8,150ZM510.8,172.7L510.8,172.7L510.8,172.7ZM510.8,172.7L542.2,165.8L548.4,172.5L510.8,172.7ZM510.8,172.7L510.8,172.7L510.8,172.7ZM542.2,165.8L573.2,161.2L582.4,170.8L554.9,172.2ZM542.2,165.8L554.9,172.2L548.4,172.5ZM573.2,161.2L603.7,157.2L615.2,168.6L591.3,170.2ZM573.2,161.2L591.3,170.2L582.4,170.8ZM603.7,157.2L633.9,155L644.9,165.4L624.5,167.7ZM603.7,157.2L624.5,167.7L615.2,168.6ZM633.9,155L663.5,152.4L674.3,162.3L653.2,164.5ZM633.9,155L653.2,164.5L644.9,165.4ZM663.5,152.4L692.8,150L703.3,159.3L682.1,161.5ZM663.5,152.4L682.1,161.5L674.3,162.3ZM692.8,150L721.7,147.5L731.8,156.3L710.6,158.5ZM692.8,150L710.6,158.5L703.3,159.3Z"/><path fill="#ffb114" stroke="#ffb114" stroke-width="0.6" d="M411.5,137.1L416.3,133.5L426.7,141.7ZM416.3,133.5L446.2,123.6L477.3,145.1ZM416.3,133.5L477.3,145.1L466.4,149.3L426.7,141.7ZM446.2,123.6L475.8,119.9L507.8,139.7ZM446.2,123.6L507.8,139.7L477.3,145.1ZM475.8,119.9L505,116.7L537.9,136ZM475.8,119.9L537.9,136L507.8,139.7ZM505,116.7L533.9,114.1L567.6,132.3ZM505,116.7L567.6,132.3L537.9,136ZM533.9,114.1L596.8,129.2L567.6,132.3ZM562.4,112L590.5,109.6L625.7,127ZM562.4,112L625.7,127L596.8,129.2ZM590.5,109.6L618.3,107.6L654.3,124.8ZM590.5,109.6L654.3,124.8L625.7,127ZM618.3,107.6L645.6,105.6L682.4,122.8ZM618.3,107.6L682.4,122.8L654.3,124.8ZM466.4,149.3L477.3,145.1L486.2,152.4ZM477.3,145.1L507.8,139.7L526.4,153.8L502.8,153.2ZM477.3,145.1L502.8,153.2L486.2,152.4ZM507.8,139.7L537.9,136L561.7,153L549.6,153.5ZM507.8,139.7L549.6,153.5L526.4,153.8ZM537.9,136L567.6,132.3L595.9,151.8L587.9,152.1ZM537.9,136L587.9,152.1L561.7,153ZM567.6,132.3L596.8,129.2L624.8,148.7L616.9,149.2ZM567.6,132.3L616.9,149.2L595.9,151.8ZM596.8,129.2L625.7,127L653.4,145.6L646.1,146.4ZM596.8,129.2L646.1,146.4L624.8,148.7ZM625.7,127L654.3,124.8L681.5,142.6L673.7,143.4ZM625.7,127L673.7,143.4L653.4,145.6ZM654.3,124.8L682.4,122.8L708.9,139.5L700.9,140.5ZM654.3,124.8L700.9,140.5L681.5,142.6Z"/><path fill="#ff9614" stroke="#ff9614" stroke-width="0.6" d="M437.7,126.5L446.2,123.6L454.8,129.6ZM446.2,123.6L475.8,119.9L493.6,130.9L473.1,130.7ZM446.2,123.6L473.1,130.7L454.8,129.6ZM475.8,119.9L505,116.7L528.7,130.6L517.9,130.8ZM475.8,119.9L517.9,130.8L493.6,130.9ZM505,116.7L533.9,114.1L563.9,130.3L560.4,130.5ZM505,116.7L560.4,130.5L528.7,130.6ZM533.9,114.1L562.4,112L596.8,129.2ZM533.9,114.1L596.8,129.2L596.8,129.2L563.9,130.3ZM562.4,112L590.5,109.6L623.6,125.9L621.9,126.1ZM562.4,112L621.9,126.1L596.8,129.2L596.8,129.2ZM590.5,109.6L618.3,107.6L649.9,122.7L647,123ZM590.5,109.6L647,123L623.6,125.9ZM618.3,107.6L645.6,105.6L674,118.9L668.6,119.6ZM618.3,107.6L668.6,119.6L649.9,122.7ZM596.8,129.2L596.8,129.2L596.8,129.2ZM596.8,129.2L596.8,129.2L596.8,129.2ZM596.8,129.2L596.8,129.2L596.8,129.2Z"/></g>
<g fill="none" stroke="#000" shape-rendering="crispEdges"><path stroke-width="0.7" d="M252.5,420.3L285.4,385.7M415,239.4L447.1,208.3M380.9,341.9L414.5,306.6M414.5,306.6L447.9,272.8M343.1,445.1L378.5,409.6M378.5,409.6L413.8,374.6M413.8,374.6L448.7,339.2M448.7,339.2L483.4,304.2M449.6,410.9L486,372.9M486,372.9L522.1,336.5M488.7,445.3L526.7,407.1M531.7,479.1L571.4,441.2M571.4,441.2L610.7,400.9M236.4,334.4L259.9,358.4M313.1,415.9L343.1,445.1M343.1,445.1L375.8,479.1M375.8,479.1L411.7,514.3M266.6,296.4L291.4,321.8M347.1,378.2L378.5,409.6M378.5,409.6L412.9,445.1M296.5,255.4L322.5,282.8M322.5,282.8L350.6,311.7M350.6,311.7L380.9,341.9M380.9,341.9L413.8,374.6M413.8,374.6L449.6,410.9M326.4,215.9L353.5,242.2M382.9,274L414.5,306.6M414.5,306.6L448.7,339.2M384.6,207.8L415,239.4M415,239.4L447.9,272.8M447.1,208.3L481.1,242.2M479,185.9L514.2,222.2M573.2,161.2L611.2,200.4M603.7,157.2L642.6,195.7"/><path stroke-width="0.75" d="M206,370.7L236.4,334.4M326.4,215.9L356.4,182.8M356.4,182.8L386.4,155.7M228.3,394.5L259.9,358.4M259.9,358.4L291.4,321.8M353.5,242.2L384.6,207.8M384.6,207.8L415.6,179.1M285.4,385.7L318,346.8M318,346.8L350.6,311.7M350.6,311.7L382.9,274M382.9,274L415,239.4M278.7,448.3L313.1,415.9M313.1,415.9L347.1,378.2M347.1,378.2L380.9,341.9M447.9,272.8L481.1,242.2M307.2,478.8L343.1,445.1M483.4,304.2L518,273.9M338.4,512.1L375.8,479.1M375.8,479.1L412.9,445.1M412.9,445.1L449.6,410.9M522.1,336.5L558,304.1M372.6,548.6L411.7,514.3M411.7,514.3L450.4,478.3M450.4,478.3L488.7,445.3M526.7,407.1L564.3,367.2M564.3,367.2L601.7,335.4M410.3,588.8L451.2,550.5M451.2,550.5L491.6,513.3M491.6,513.3L531.7,479.1M610.7,400.9L649.7,366.4M206,370.7L228.3,394.5M228.3,394.5L252.5,420.3M252.5,420.3L278.7,448.3M278.7,448.3L307.2,478.8M307.2,478.8L338.4,512.1M338.4,512.1L372.6,548.6M372.6,548.6L410.3,588.8M259.9,358.4L285.4,385.7M285.4,385.7L313.1,415.9M411.7,514.3L451.2,550.5M291.4,321.8L318,346.8M318,346.8L347.1,378.2M412.9,445.1L450.4,478.3M450.4,478.3L491.6,513.3M449.6,410.9L488.7,445.3M353.5,242.2L382.9,274M448.7,339.2L486,372.9M486,372.9L526.7,407.1M356.4,182.8L384.6,207.8M447.9,272.8L483.4,304.2M483.4,304.2L522.1,336.5M415.6,179.1L447.1,208.3M481.1,242.2L518,273.9M446.5,157.1L479,185.9M514.2,222.2L552.2,255.4M477.3,145.1L510.8,172.7M510.8,172.7L547,211.8M547,211.8L586,245.2M542.2,165.8L579.3,205.8M633.9,155L673.6,192.5M663.5,152.4L704,189.7M692.8,150L734.1,186.8M721.7,147.5L763.7,184"/><path stroke-width="0.8" d="M236.4,334.4L266.6,296.4M266.6,296.4L296.5,255.4M296.5,255.4L326.4,215.9M386.4,155.7L416.3,133.5M291.4,321.8L322.5,282.8M322.5,282.8L353.5,242.2M415.6,179.1L446.5,157.1M447.1,208.3L479,185.9M488.7,445.3L531.7,479.1M526.7,407.1L571.4,441.2M522.1,336.5L564.3,367.2M564.3,367.2L610.7,400.9M386.4,155.7L415.6,179.1M518,273.9L558,304.1M558,304.1L601.7,335.4M416.3,133.5L446.5,157.1M552.2,255.4L593.5,285.2M446.2,123.6L477.3,145.1M586,245.2L628.5,275.3M507.8,139.7L542.2,165.8M579.3,205.8L619.4,238.4M619.4,238.4L662.9,269.5M537.9,136L573.2,161.2M611.2,200.4L652.2,233.8M567.6,132.3L603.7,157.2M642.6,195.7L684.6,229.6M596.8,129.2L633.9,155M673.6,192.5L716.4,226.9M704,189.7L747.8,223.3M734.1,186.8L778.7,220.1M763.7,184L809.1,216.7"/><path stroke-width="0.85" d="M481.1,242.2L514.2,222.2M601.7,335.4L638.6,314.1M649.7,366.4L688.1,341.8M601.7,335.4L649.7,366.4M593.5,285.2L638.6,314.1M638.6,314.1L688.1,341.8M628.5,275.3L674.8,303.9M674.8,303.9L725.7,333.1M475.8,119.9L507.8,139.7M505,116.7L537.9,136M652.2,233.8L696.8,263.9M684.6,229.6L730.2,259.2M716.4,226.9L763,254.7M625.7,127L663.5,152.4M747.8,223.3L795.3,250.9M654.3,124.8L692.8,150M778.7,220.1L827.1,247.2M682.4,122.8L721.7,147.5M809.1,216.7L858.4,244.5"/><path stroke-width="0.9" d="M479,185.9L510.8,172.7M518,273.9L552.2,255.4M558,304.1L593.5,285.2M662.9,269.5L710.5,295.3M710.5,295.3L762.7,323.3M696.8,263.9L745.6,289.2M745.6,289.2L799,315M533.9,114.1L567.6,132.3M730.2,259.2L780,283.8M780,283.8L834.7,309.4M562.4,112L596.8,129.2M763,254.7L813.9,278.8M813.9,278.8L869.7,304.3M590.5,109.6L625.7,127M795.3,250.9L847.2,274.8M847.2,274.8L904.1,299.3M618.3,107.6L654.3,124.8M827.1,247.2L880,270.9M645.6,105.6L682.4,122.8M858.4,244.5L912.2,267.7"/><path stroke-width="0.95" d="M416.3,133.5L446.2,123.6M446.5,157.1L477.3,145.1M514.2,222.2L547,211.8M552.2,255.4L586,245.2M593.5,285.2L628.5,275.3M638.6,314.1L674.8,303.9M674.8,303.9L710.5,295.3M688.1,341.8L725.7,333.1M725.7,333.1L762.7,323.3M762.7,323.3L799,315M880,270.9L937.9,294.3M912.2,267.7L971.2,289.5"/><path stroke-width="1" d="M446.2,123.6L475.8,119.9M475.8,119.9L505,116.7M505,116.7L533.9,114.1M533.9,114.1L562.4,112M562.4,112L590.5,109.6M590.5,109.6L618.3,107.6M618.3,107.6L645.6,105.6M477.3,145.1L507.8,139.7M507.8,139.7L537.9,136M537.9,136L567.6,132.3M567.6,132.3L596.8,129.2M596.8,129.2L625.7,127M625.7,127L654.3,124.8M654.3,124.8L682.4,122.8M510.8,172.7L542.2,165.8M542.2,165.8L573.2,161.2M573.2,161.2L603.7,157.2M603.7,157.2L633.9,155M633.9,155L663.5,152.4M663.5,152.4L692.8,150M692.8,150L721.7,147.5M547,211.8L579.3,205.8M579.3,205.8L611.2,200.4M611.2,200.4L642.6,195.7M642.6,195.7L673.6,192.5M673.6,192.5L704,189.7M704,189.7L734.1,186.8M734.1,186.8L763.7,184M586,245.2L619.4,238.4M619.4,238.4L652.2,233.8M652.2,233.8L684.6,229.6M684.6,229.6L716.4,226.9M716.4,226.9L747.8,223.3M747.8,223.3L778.7,220.1M778.7,220.1L809.1,216.7M628.5,275.3L662.9,269.5M662.9,269.5L696.8,263.9M696.8,263.9L730.2,259.2M730.2,259.2L763,254.7M763,254.7L795.3,250.9M795.3,250.9L827.1,247.2M827.1,247.2L858.4,244.5M710.5,295.3L745.6,289.2M745.6,289.2L780,283.8M780,283.8L813.9,278.8M813.9,278.8L847.2,274.8M847.2,274.8L880,270.9M880,270.9L912.2,267.7M799,315L834.7,309.4M834.7,309.4L869.7,304.3M869.7,304.3L904.1,299.3M904.1,299.3L937.9,294.3M937.9,294.3L971.2,289.5"/></g>
<g font-family="'Liberation Sans', sans-serif" font-size="100" fill="#000"><text transform="matrix(0.2024 -0.0134 0.0092 0.1721 184.41 73.65)">0</text><text transform="matrix(0.2492 -0.0487 0.0051 0.2051 404.56 637.27)">0</text><text transform="matrix(0.1967 -0.0130 0.0075 0.1698 234.59 70.24)">1000</text><text transform="matrix(0.2402 -0.0470 0.0025 0.2018 466.22 625.08)">1000</text><text transform="matrix(0.1912 -0.0127 0.0059 0.1675 299.79 65.84)">2000</text><text transform="matrix(0.2316 -0.0453 0.0001 0.1987 545.72 609.41)">2000</text><text transform="matrix(0.1860 -0.0123 0.0044 0.1653 363.18 61.56)">3000</text><text transform="matrix(0.2235 -0.0437 -0.0021 0.1956 622.40 594.29)">3000</text><text transform="matrix(0.1809 -0.0120 0.0030 0.1631 424.83 57.39)">4000</text><text transform="matrix(0.2158 -0.0422 -0.0042 0.1926 696.40 579.70)">4000</text><text transform="matrix(0.1761 -0.0117 0.0016 0.1610 484.82 53.34)">5000</text><text transform="matrix(0.2085 -0.0408 -0.0061 0.1897 767.87 565.61)">5000</text><text transform="matrix(0.1714 -0.0114 0.0003 0.1590 543.21 49.39)">6000</text><text transform="matrix(0.2016 -0.0394 -0.0079 0.1869 836.93 551.99)">6000</text><text transform="matrix(0.1670 -0.0111 -0.0009 0.1570 600.06 45.55)">7000</text><text transform="matrix(0.1950 -0.0381 -0.0096 0.1842 903.70 538.82)">7000</text><text transform="matrix(0.1627 -0.0108 -0.0021 0.1550 655.44 41.81)">8000</text><text transform="matrix(0.1887 -0.0369 -0.0112 0.1815 968.30 526.09)">8000</text><text transform="matrix(0.1649 -0.0097 0.0038 0.2102 426.07 24.82)">RPM</text><text transform="matrix(0.1947 -0.0398 -0.0053 0.2430 697.95 618.92)">RPM</text><text transform="matrix(0.1972 -0.0259 0.0097 0.1594 152.78 382.45)">0</text><text transform="matrix(0.1852 -0.0345 -0.0124 0.1815 1032.30 478.68)">0</text><text transform="matrix(0.1993 -0.0239 0.0100 0.1620 138.47 331.03)">10</text><text transform="matrix(0.1861 -0.0318 -0.0127 0.1845 1036.38 418.54)">10</text><text transform="matrix(0.2010 -0.0218 0.0101 0.1646 135.08 277.34)">20</text><text transform="matrix(0.1876 -0.0291 -0.0130 0.1879 1040.51 357.33)">20</text><text transform="matrix(0.2027 -0.0197 0.0103 0.1672 131.64 222.82)">30</text><text transform="matrix(0.1890 -0.0263 -0.0132 0.1913 1044.72 295.01)">30</text><text transform="matrix(0.2045 -0.0174 0.0104 0.1698 128.14 167.43)">40</text><text transform="matrix(0.1905 -0.0233 -0.0134 0.1948 1049.01 231.55)">40</text><text transform="matrix(0.2062 -0.0151 0.0106 0.1725 124.59 111.16)">50</text><text transform="matrix(0.1921 -0.0203 -0.0137 0.1984 1053.38 166.92)">50</text><text transform="matrix(0.0131 0.1979 -0.1731 0.0179 99.45 170.90)">ADVANCE (DEG)</text><text transform="matrix(0.0163 -0.2215 0.1611 -0.0237 1083.08 401.00)">ADVANCE (DEG)</text><text class="b" transform="matrix(0.0029 -0.1689 0.0998 0.0256 700.59 43.70)">16</text><text class="b" transform="matrix(-0.0094 -0.1630 0.0624 0.0741 181.78 418.01)">16</text><text class="b" transform="matrix(0.0039 -0.1748 0.1072 0.0275 739.37 53.98)">18</text><text class="b" transform="matrix(-0.0093 -0.1687 0.0674 0.0800 203.26 443.82)">18</text><text class="b" transform="matrix(0.0051 -0.1811 0.1154 0.0296 781.07 65.04)">20</text><text class="b" transform="matrix(-0.0091 -0.1749 0.0730 0.0866 226.50 471.74)">20</text><text class="b" transform="matrix(0.0065 -0.1879 0.1246 0.0320 826.05 76.97)">22</text><text class="b" transform="matrix(-0.0088 -0.1816 0.0794 0.0941 251.72 502.04)">22</text><text class="b" transform="matrix(0.0080 -0.1952 0.1350 0.0346 874.70 89.88)">24</text><text class="b" transform="matrix(-0.0084 -0.1887 0.0866 0.1027 279.19 535.04)">24</text><text class="b" transform="matrix(0.0099 -0.2031 0.1467 0.0376 927.50 103.88)">26</text><text class="b" transform="matrix(-0.0079 -0.1964 0.0948 0.1125 309.21 571.12)">26</text><text class="b" transform="matrix(0.0120 -0.2117 0.1600 0.0410 984.99 119.13)">28</text><text class="b" transform="matrix(-0.0073 -0.2048 0.1043 0.1237 342.18 610.72)">28</text><text class="b" transform="matrix(0.0145 -0.2210 0.1752 0.0449 1047.84 135.80)">30</text><text class="b" transform="matrix(-0.0065 -0.2139 0.1152 0.1367 378.53 654.40)">30</text><text class="n" transform="matrix(0.1230 0.0277 -0.0078 0.2027 761.33 21.43)">MANIFOLD PRESSURE (IN-HG)</text><text class="n" transform="matrix(0.0686 0.0852 0.0107 0.2323 216.08 489.70)">MANIFOLD PRESSURE (IN-HG)</text></g>
</svg>
</body></html>
